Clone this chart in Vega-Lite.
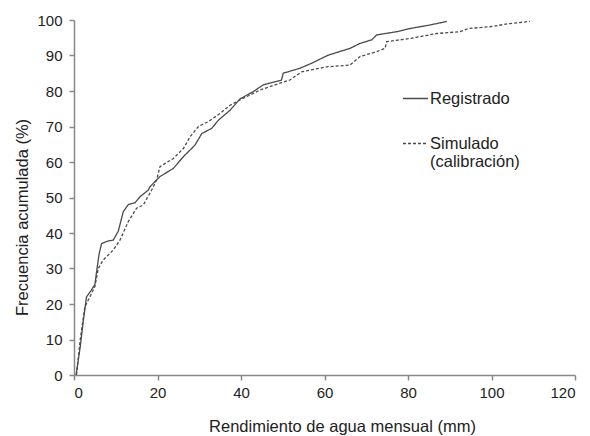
{
  "$schema": "https://vega.github.io/schema/vega-lite/v6.json",
  "width": 501,
  "height": 355,
  "autosize": "none",
  "padding": {"left": 74, "top": 20, "right": 15, "bottom": 61},
  "background": "white",
  "config": {
    "view": {"stroke": null},
    "font": "Liberation Sans"
  },
  "data": {
    "values": [
      {"x": 0.5, "y": 0, "serie": "Registrado"},
      {"x": 1.5, "y": 8, "serie": "Registrado"},
      {"x": 2.2, "y": 15, "serie": "Registrado"},
      {"x": 3.0, "y": 22, "serie": "Registrado"},
      {"x": 4.2, "y": 24, "serie": "Registrado"},
      {"x": 5.0, "y": 25.5, "serie": "Registrado"},
      {"x": 5.4, "y": 29, "serie": "Registrado"},
      {"x": 6.0, "y": 34, "serie": "Registrado"},
      {"x": 6.6, "y": 37, "serie": "Registrado"},
      {"x": 8.0, "y": 37.7, "serie": "Registrado"},
      {"x": 9.4, "y": 38, "serie": "Registrado"},
      {"x": 10.6, "y": 40.5, "serie": "Registrado"},
      {"x": 11.8, "y": 46, "serie": "Registrado"},
      {"x": 13.0, "y": 48, "serie": "Registrado"},
      {"x": 14.6, "y": 48.5, "serie": "Registrado"},
      {"x": 15.8, "y": 50.2, "serie": "Registrado"},
      {"x": 17.8, "y": 52.1, "serie": "Registrado"},
      {"x": 18.2, "y": 53, "serie": "Registrado"},
      {"x": 19.4, "y": 54.5, "serie": "Registrado"},
      {"x": 20.6, "y": 55.9, "serie": "Registrado"},
      {"x": 23.8, "y": 58.2, "serie": "Registrado"},
      {"x": 26.2, "y": 61.5, "serie": "Registrado"},
      {"x": 29.0, "y": 64.8, "serie": "Registrado"},
      {"x": 30.6, "y": 68, "serie": "Registrado"},
      {"x": 33.0, "y": 69.5, "serie": "Registrado"},
      {"x": 34.6, "y": 71.8, "serie": "Registrado"},
      {"x": 37.4, "y": 74.6, "serie": "Registrado"},
      {"x": 39.8, "y": 77.8, "serie": "Registrado"},
      {"x": 42.9, "y": 79.8, "serie": "Registrado"},
      {"x": 45.3, "y": 81.7, "serie": "Registrado"},
      {"x": 49.7, "y": 83.1, "serie": "Registrado"},
      {"x": 50.1, "y": 85, "serie": "Registrado"},
      {"x": 54.1, "y": 86.4, "serie": "Registrado"},
      {"x": 56.9, "y": 87.8, "serie": "Registrado"},
      {"x": 60.9, "y": 90.1, "serie": "Registrado"},
      {"x": 66.1, "y": 92, "serie": "Registrado"},
      {"x": 68.5, "y": 93.4, "serie": "Registrado"},
      {"x": 71.3, "y": 94.4, "serie": "Registrado"},
      {"x": 72.5, "y": 95.8, "serie": "Registrado"},
      {"x": 77.3, "y": 96.7, "serie": "Registrado"},
      {"x": 80.5, "y": 97.6, "serie": "Registrado"},
      {"x": 85.3, "y": 98.6, "serie": "Registrado"},
      {"x": 89.3, "y": 99.6, "serie": "Registrado"},
      {"x": 0.6, "y": 0, "serie": "Simulado (calibración)"},
      {"x": 1.5, "y": 10, "serie": "Simulado (calibración)"},
      {"x": 2.6, "y": 19.2, "serie": "Simulado (calibración)"},
      {"x": 3.8, "y": 22, "serie": "Simulado (calibración)"},
      {"x": 5.0, "y": 24.9, "serie": "Simulado (calibración)"},
      {"x": 5.8, "y": 30, "serie": "Simulado (calibración)"},
      {"x": 7.0, "y": 32.4, "serie": "Simulado (calibración)"},
      {"x": 9.4, "y": 35.2, "serie": "Simulado (calibración)"},
      {"x": 11.0, "y": 38, "serie": "Simulado (calibración)"},
      {"x": 13.0, "y": 43.2, "serie": "Simulado (calibración)"},
      {"x": 15.0, "y": 47, "serie": "Simulado (calibración)"},
      {"x": 16.6, "y": 47.9, "serie": "Simulado (calibración)"},
      {"x": 18.6, "y": 52.1, "serie": "Simulado (calibración)"},
      {"x": 19.8, "y": 55, "serie": "Simulado (calibración)"},
      {"x": 20.6, "y": 58.7, "serie": "Simulado (calibración)"},
      {"x": 23.8, "y": 61, "serie": "Simulado (calibración)"},
      {"x": 26.2, "y": 63.8, "serie": "Simulado (calibración)"},
      {"x": 27.8, "y": 67.1, "serie": "Simulado (calibración)"},
      {"x": 29.8, "y": 70, "serie": "Simulado (calibración)"},
      {"x": 32.2, "y": 71.4, "serie": "Simulado (calibración)"},
      {"x": 35.0, "y": 73.7, "serie": "Simulado (calibración)"},
      {"x": 37.4, "y": 76, "serie": "Simulado (calibración)"},
      {"x": 39.8, "y": 77.5, "serie": "Simulado (calibración)"},
      {"x": 44.6, "y": 80.3, "serie": "Simulado (calibración)"},
      {"x": 49.3, "y": 82.2, "serie": "Simulado (calibración)"},
      {"x": 51.7, "y": 83.1, "serie": "Simulado (calibración)"},
      {"x": 54.5, "y": 85.4, "serie": "Simulado (calibración)"},
      {"x": 60.5, "y": 86.8, "serie": "Simulado (calibración)"},
      {"x": 66.1, "y": 87.3, "serie": "Simulado (calibración)"},
      {"x": 68.5, "y": 89.7, "serie": "Simulado (calibración)"},
      {"x": 72.5, "y": 91.1, "serie": "Simulado (calibración)"},
      {"x": 74.5, "y": 92, "serie": "Simulado (calibración)"},
      {"x": 74.9, "y": 93.9, "serie": "Simulado (calibración)"},
      {"x": 80.5, "y": 94.8, "serie": "Simulado (calibración)"},
      {"x": 86.9, "y": 96.2, "serie": "Simulado (calibración)"},
      {"x": 92.5, "y": 96.7, "serie": "Simulado (calibración)"},
      {"x": 94.4, "y": 97.6, "serie": "Simulado (calibración)"},
      {"x": 99.6, "y": 98.1, "serie": "Simulado (calibración)"},
      {"x": 104.4, "y": 99, "serie": "Simulado (calibración)"},
      {"x": 109.2, "y": 99.6, "serie": "Simulado (calibración)"}
    ]
  },
  "mark": {"type": "line", "strokeWidth": 1.3, "color": "#4a4a4a"},
  "encoding": {
    "x": {
      "field": "x", "type": "quantitative",
      "scale": {"domain": [0, 120], "nice": false, "zero": true},
      "axis": {
        "title": "Rendimiento de agua mensual (mm)",
        "values": [0, 20, 40, 60, 80, 100, 120],
        "grid": false,
        "domainColor": "#888888", "domainWidth": 1.5,
        "tickColor": "#888888", "tickSize": 5, "tickWidth": 1.5,
        "labelFont": "Liberation Sans", "labelFontSize": 15, "labelColor": "#222222",
        "labelPadding": 5,
        "titleFont": "Liberation Sans", "titleFontSize": 16.5, "titleFontWeight": "normal", "titleColor": "#222222",
        "titleX": 268, "titleY": 51, "titleBaseline": "middle", "titleAnchor": null, "titleAlign": "center"
      }
    },
    "y": {
      "field": "y", "type": "quantitative",
      "scale": {"domain": [0, 100], "nice": false},
      "axis": {
        "title": "Frecuencia acumulada (%)",
        "values": [0, 10, 20, 30, 40, 50, 60, 70, 80, 90, 100],
        "grid": false,
        "domainColor": "#888888", "domainWidth": 1.5,
        "tickColor": "#888888", "tickSize": 5, "tickWidth": 1.5,
        "labelFont": "Liberation Sans", "labelFontSize": 15, "labelColor": "#222222",
        "labelPadding": 7,
        "titleFont": "Liberation Sans", "titleFontSize": 16.5, "titleFontWeight": "normal", "titleColor": "#222222",
        "titleX": -52, "titleY": 197, "titleBaseline": "middle", "titleAlign": "center", "titleAngle": -90
      }
    },
    "strokeDash": {
      "field": "serie", "type": "nominal",
      "scale": {"domain": ["Registrado", "Simulado (calibración)"], "range": [[1, 0], [3, 2]]},
      "legend": {
        "title": null,
        "orient": "none",
        "legendX": 328,
        "legendY": 65,
        "symbolType": "stroke",
        "symbolSize": 625,
        "symbolStrokeWidth": 1.3,
        "symbolStrokeColor": "#4a4a4a",
        "labelFont": "Liberation Sans",
        "labelFontSize": 16.5,
        "labelColor": "#222222",
        "labelOffset": 1,
        "labelLimit": 300,
        "rowPadding": 23,
        "labelExpr": "datum.label == 'Simulado (calibración)' ? ['Simulado', '(calibración)'] : datum.label"
      }
    },
    "order": {"field": "x", "type": "quantitative"}
  }
}
